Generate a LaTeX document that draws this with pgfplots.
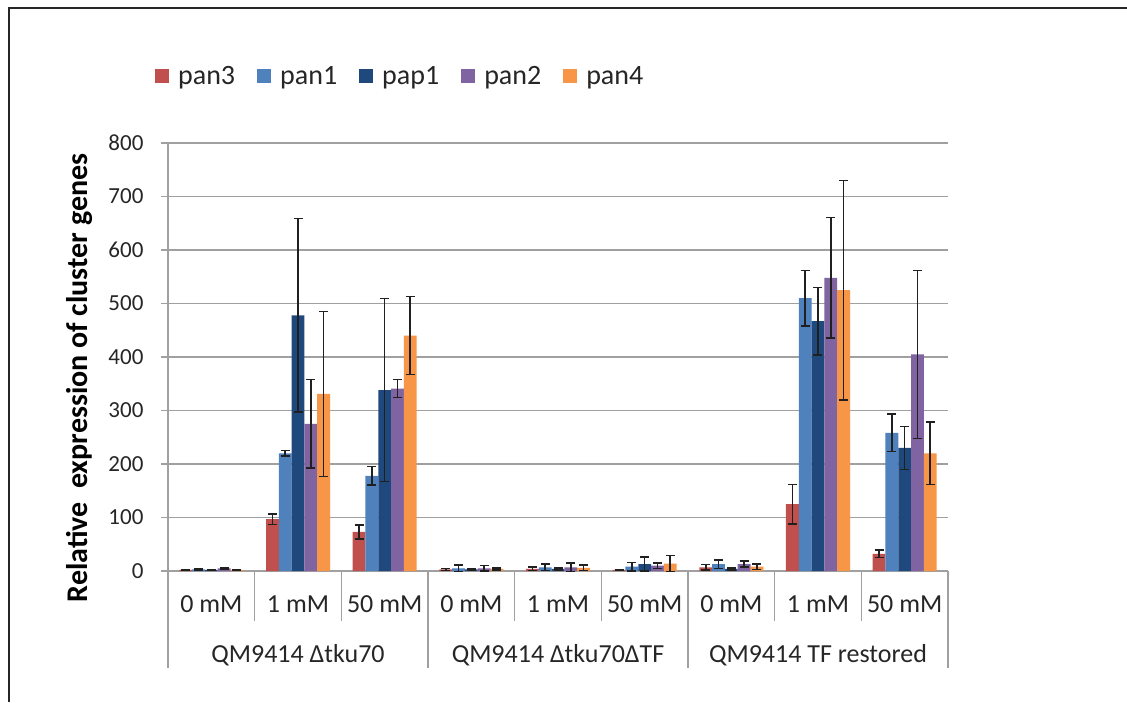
\documentclass[border=0pt]{standalone}
\usepackage{fontspec}
\setmainfont{Carlito}
\usepackage{pgfplots}
\pgfplotsset{compat=1.18}
\usepackage{pgfplotstable}

\definecolor{cpanthree}{HTML}{C0504D}
\definecolor{cpanone}{HTML}{4F81BD}
\definecolor{cpapone}{HTML}{1F497D}
\definecolor{cpantwo}{HTML}{8064A2}
\definecolor{cpanfour}{HTML}{F79646}
\definecolor{gridgray}{HTML}{A0A0A0}
\definecolor{errc}{HTML}{202020}

\pgfplotstableread{
x y e
0 2 0.5
1 97 10
2 73 13
3 3 2
4 4 3
5 2 1
6 7 5
7 125 37
8 32 7
}\panthree
\pgfplotstableread{
x y e
0 3 1
1 220 5
2 178 17
3 5 6
4 7 6
5 8 8
6 13 8
7 510 52
8 258 35
}\panone
\pgfplotstableread{
x y e
0 2 0.5
1 478 181
2 338 171
3 3 1
4 4 2
5 13 13
6 4 2
7 467 63
8 230 40
}\papone
\pgfplotstableread{
x y e
0 5 1
1 275 83
2 341 17
3 5 5
4 7 8
5 10 5
6 13 6
7 548 113
8 405 157
}\pantwo
\pgfplotstableread{
x y e
0 2 0.5
1 331 154
2 440 73
3 4 2
4 6 5
5 14 15
6 8 5
7 525 205
8 220 58
}\panfour

\pgfplotsset{
  mybar/.style={fill=#1, draw=none,
    legend image code/.code={\fill[fill=#1] (0pt,-7pt) rectangle (14pt,7pt);},
    error bars/.cd, y dir=both, y explicit,
    error bar style={line width=1.6pt, errc},
    error mark options={rotate=90, line width=1.6pt, mark size=4.5pt, errc}},
}
\newcommand{\tickfont}{\fontsize{23}{27}\selectfont}
\newcommand{\lblfont}{\fontsize{26}{30}\selectfont}

\begin{document}
\begin{tikzpicture}[x=1pt,y=1pt]
\useasboundingbox (0,0) rectangle (1127,702);
\fill[white] (0,0) rectangle (1127,702);
\draw[line width=2.5pt, black!85] (9,0) -- (9,694) -- (1127,694);
\begin{axis}[
  at={(168pt,131pt)}, anchor=south west,
  scale only axis, width=780pt, height=428pt,
  ymin=0, ymax=800, ytick={0,100,...,800},
  xmin=-0.5, xmax=8.5,
  ybar=0pt, bar width=12.8pt,
  axis x line*=bottom, axis y line*=left,
  axis line style={line width=1.5pt, gridgray},
  ymajorgrids, grid style={line width=1.5pt, gridgray},
  xtick=\empty,
  ytick style={line width=1.5pt, gridgray},
  tick align=outside, major tick length=7pt,
  yticklabel style={font=\tickfont, text=black!85, xshift=-14pt},
  /pgf/number format/assume math mode=true,
  clip=false,
  legend style={at={(axis description cs:-0.0167,1.1565)}, anchor=west,
    draw=none, fill=none, inner sep=0pt, legend columns=-1,
    font=\fontsize{28}{32}\selectfont, text=black!85,
    nodes={inner sep=0pt},
    /tikz/every odd column/.style={column sep=9pt},
    /tikz/every even column/.style={column sep=22pt}},
]
\addplot[mybar=cpanthree] table[x=x,y=y,y error=e]{\panthree};
\addplot[mybar=cpanone] table[x=x,y=y,y error=e]{\panone};
\addplot[mybar=cpapone] table[x=x,y=y,y error=e]{\papone};
\addplot[mybar=cpantwo] table[x=x,y=y,y error=e]{\pantwo};
\addplot[mybar=cpanfour] table[x=x,y=y,y error=e]{\panfour};
\legend{pan3,pan1,pap1,pan2,pan4}

\pgfplotsinvokeforeach{-0.5,2.5,5.5,8.5}{
  \draw[gridgray, line width=1.5pt] (axis cs:#1,0) -- ([yshift=-97pt]axis cs:#1,0);
}
\pgfplotsinvokeforeach{0.5,1.5,3.5,4.5,6.5,7.5}{
  \draw[gridgray, line width=1.5pt] (axis cs:#1,0) -- ([yshift=-50pt]axis cs:#1,0);
}
\pgfplotsinvokeforeach{0,3,6}{
  \node[font=\lblfont, text=black!85] at ([yshift=-33pt]axis cs:#1,0) {0 mM};
}
\pgfplotsinvokeforeach{1,4,7}{
  \node[font=\lblfont, text=black!85] at ([yshift=-33pt]axis cs:#1,0) {1 mM};
}
\pgfplotsinvokeforeach{2,5,8}{
  \node[font=\lblfont, text=black!85] at ([yshift=-33pt]axis cs:#1,0) {50 mM};
}
\node[font=\lblfont, text=black!85] at ([yshift=-84pt]axis cs:1,0) {QM9414 Δtku70};
\node[font=\lblfont, text=black!85] at ([yshift=-84pt]axis cs:4,0) {QM9414 Δtku70ΔTF};
\node[font=\lblfont, text=black!85] at ([yshift=-84pt]axis cs:7,0) {QM9414 TF restored};
\end{axis}
\node[rotate=90, font=\bfseries\fontsize{30}{34}\selectfont, text=black] at (79,324) {Relative\ \ expression of cluster genes};
\end{tikzpicture}
\end{document}
